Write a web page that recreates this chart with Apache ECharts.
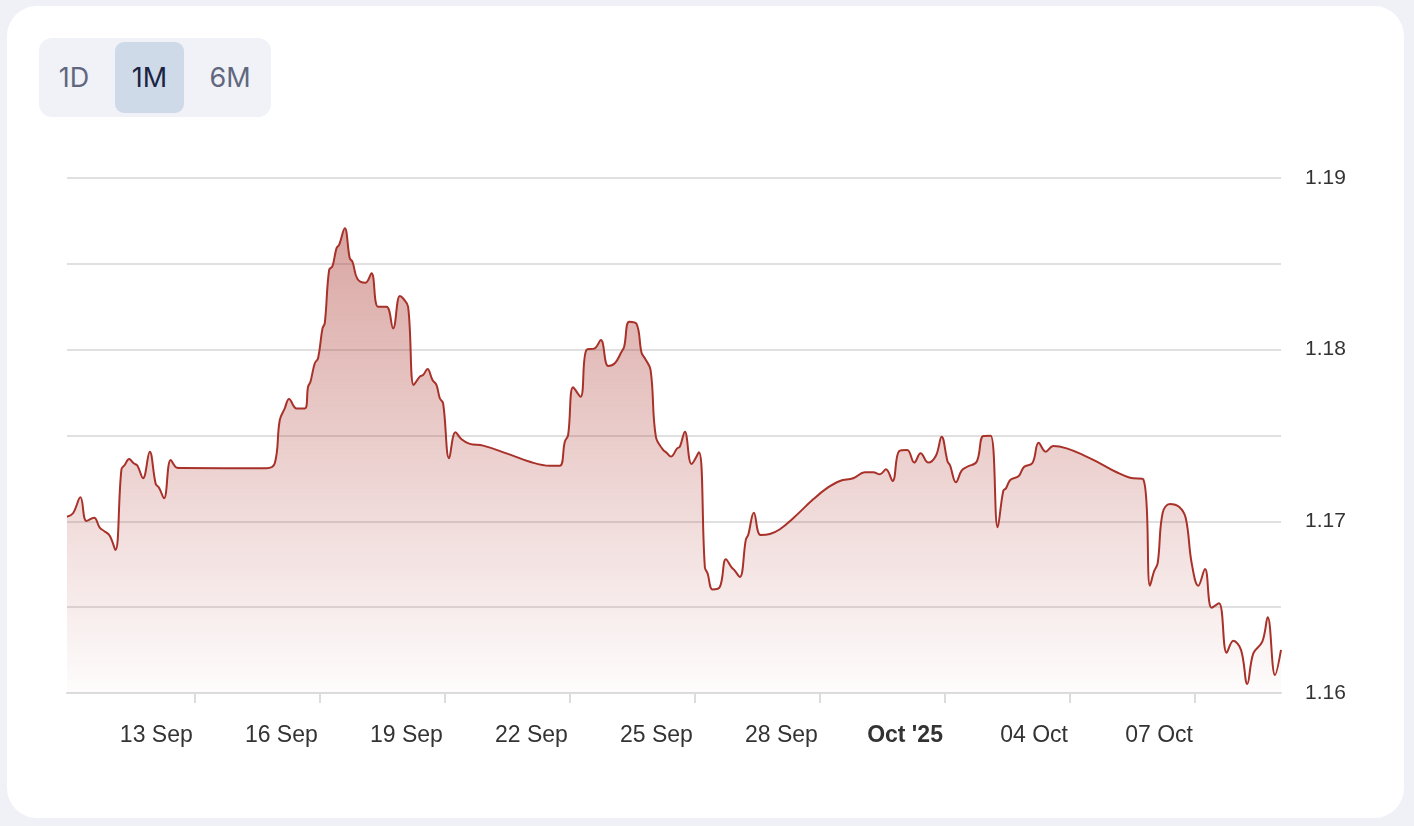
<!DOCTYPE html>
<html>
<head>
<meta charset="utf-8">
<script src="https://cdn.jsdelivr.net/npm/echarts@6/dist/echarts.min.js"></script>
<style>
  html, body { margin: 0; padding: 0; width: 1414px; height: 826px; background: #f0f1f6; overflow: hidden; }
  #card { position: absolute; left: 7px; top: 6px; width: 1397px; height: 812px; background: #ffffff; border-radius: 30px; }
  #chart { position: absolute; left: 0; top: 0; width: 1414px; height: 826px; }
  #ranges { position: absolute; left: 39px; top: 38px; width: 232px; height: 79px; background: #f0f2f7; border-radius: 13px; z-index: 5; }
  .btn { position: absolute; top: 4px; height: 71px; line-height: 71px; text-align: center; font-family: Inter, "Liberation Sans", sans-serif; font-size: 27px; color: #61677f; border-radius: 9px; }
  .btn.sel { background: #cedae8; color: #1b2342; }
</style>
</head>
<body>
<div id="card"></div>
<div id="chart"></div>
<div id="ranges">
  <div class="btn" style="left:3px;width:64px;">1D</div>
  <div class="btn sel" style="left:76px;width:69px;">1M</div>
  <div class="btn" style="left:156px;width:70px;">6M</div>
</div>
<script>
// ---- data ----
const times = [
  '2025-09-09 22:26','2025-09-10 01:54','2025-09-10 06:10','2025-09-10 09:37','2025-09-10 14:00','2025-09-10 17:17','2025-09-10 19:46','2025-09-10 23:02',
  '2025-09-11 02:19','2025-09-11 05:47','2025-09-11 07:41','2025-09-11 10:10','2025-09-11 12:52','2025-09-11 15:00','2025-09-11 18:13','2025-09-11 22:05',
  '2025-09-12 01:32','2025-09-12 03:26','2025-09-12 06:19','2025-09-12 10:11','2025-09-12 13:48','2025-09-12 15:56','2025-09-14 17:18','2025-09-14 22:05',
  '2025-09-15 00:58','2025-09-15 03:50','2025-09-15 06:19','2025-09-15 10:35','2025-09-15 15:22','2025-09-15 17:16','2025-09-15 18:38','2025-09-15 21:07','2025-09-15 23:01',
  '2025-09-16 01:34','2025-09-16 02:53','2025-09-16 05:22','2025-09-16 07:19','2025-09-16 09:37','2025-09-16 11:07','2025-09-16 14:24','2025-09-16 17:17','2025-09-16 18:50','2025-09-16 21:43',
  '2025-09-17 02:19','2025-09-17 05:47','2025-09-17 09:35','2025-09-17 14:25','2025-09-17 18:13','2025-09-17 22:05','2025-09-17 23:59',
  '2025-09-18 02:52','2025-09-18 06:08','2025-09-18 09:36','2025-09-18 11:30','2025-09-18 14:02','2025-09-18 16:55','2025-09-18 19:13','2025-09-18 21:07','2025-09-18 23:01',
  '2025-09-19 02:29','2025-09-19 06:10','2025-09-19 09:37','2025-09-19 14:24','2025-09-19 22:04','2025-09-20 11:32','2025-09-21 00:58','2025-09-21 12:29','2025-09-21 18:14','2025-09-21 21:07','2025-09-21 23:01',
  '2025-09-22 01:54','2025-09-22 06:10','2025-09-22 09:37','2025-09-22 14:24','2025-09-22 17:52','2025-09-22 22:04',
  '2025-09-23 01:55','2025-09-23 05:47','2025-09-23 07:17','2025-09-23 10:10','2025-09-23 14:25','2025-09-23 17:18','2025-09-23 19:12','2025-09-23 22:29',
  '2025-09-24 01:32','2025-09-24 05:44','2025-09-24 07:42','2025-09-24 10:11','2025-09-24 13:48','2025-09-24 15:22','2025-09-24 18:14','2025-09-24 22:06',
  '2025-09-25 02:18','2025-09-25 05:46','2025-09-25 07:19','2025-09-25 10:12','2025-09-25 14:24','2025-09-25 17:52','2025-09-25 21:08','2025-09-25 22:38',
  '2025-09-26 01:55','2025-09-26 05:23','2025-09-26 06:42','2025-09-26 09:59','2025-09-26 13:50','2025-09-26 19:12','2025-09-27 00:58','2025-09-27 08:37','2025-09-27 20:08',
  '2025-09-28 03:52','2025-09-28 11:31','2025-09-28 19:11','2025-09-29 01:55','2025-09-29 06:42','2025-09-29 10:34','2025-09-29 14:01','2025-09-29 17:53','2025-09-29 21:41',
  '2025-09-30 02:17','2025-09-30 06:19','2025-09-30 10:00','2025-09-30 14:23','2025-09-30 18:49','2025-09-30 22:06',
  '2025-10-01 01:34','2025-10-01 02:53','2025-10-01 06:20','2025-10-01 09:37','2025-10-01 12:50','2025-10-01 18:16','2025-10-01 22:04',
  '2025-10-02 02:19','2025-10-02 06:22','2025-10-02 09:35','2025-10-02 11:08','2025-10-02 13:37','2025-10-02 18:31','2025-10-02 21:30',
  '2025-10-03 02:24','2025-10-03 05:58','2025-10-03 10:00','2025-10-03 14:23','2025-10-03 22:06','2025-10-04 07:40','2025-10-04 17:17','2025-10-05 02:54','2025-10-05 10:34','2025-10-05 18:13','2025-10-05 22:05',
  '2025-10-06 00:23','2025-10-06 02:31','2025-10-06 05:24','2025-10-06 09:36','2025-10-06 14:47','2025-10-06 18:38','2025-10-06 22:06',
  '2025-10-07 01:54','2025-10-07 05:46','2025-10-07 09:37','2025-10-07 13:49','2025-10-07 18:16','2025-10-07 22:04',
  '2025-10-08 02:30','2025-10-08 06:07','2025-10-08 09:35','2025-10-08 14:46','2025-10-08 17:53','2025-10-08 22:05','2025-10-09 01:32'
];
const prices = [
  1.17027,1.17047,1.1714,1.17002,1.17021,1.16963,1.16944,1.16916,
  1.16833,1.17303,1.17328,1.17363,1.17338,1.17324,1.17251,1.17406,
  1.17218,1.17196,1.17134,1.17357,1.17312,1.17311,1.17309,1.17338,
  1.1759,1.17658,1.17713,1.17658,1.17658,1.17784,1.17813,1.17921,1.1795,
  1.18124,1.18154,1.18464,1.18487,1.1859,1.1861,1.18707,1.18532,1.18512,1.18412,
  1.1839,1.18445,1.1825,1.1825,1.18124,1.18313,1.18299,
  1.1825,1.17794,1.17843,1.17852,1.17887,1.17823,1.17794,1.17717,1.17688,
  1.17367,1.17519,1.17478,1.17451,1.17441,1.17396,1.17347,1.17324,1.17324,1.17464,1.17503,
  1.17781,1.17726,1.18,1.18008,1.18056,1.17905,
  1.17921,1.17988,1.18017,1.18163,1.1815,1.17982,1.1795,1.17882,
  1.17493,1.17416,1.174,1.17377,1.17425,1.17435,1.17522,1.17334,
  1.17402,1.16731,1.16697,1.16603,1.16618,1.16779,1.16732,1.16717,
  1.16676,1.16895,1.1692,1.1705,1.1692,1.16926,1.16954,1.17018,1.17128,
  1.17192,1.17235,1.17251,1.17286,1.17286,1.17274,1.17303,1.17235,1.1741,
  1.17416,1.17342,1.17396,1.17342,1.17382,1.17493,
  1.17347,1.17328,1.17227,1.17295,1.17318,1.17347,1.17497,
  1.17499,1.16965,1.17177,1.17192,1.17241,1.17264,1.17317,
  1.1734,1.17458,1.17406,1.17439,1.17425,1.17386,1.17338,1.17286,1.17254,1.17245,1.16625,
  1.16707,1.16756,1.1705,1.17101,1.17085,1.17021,1.16756,
  1.16625,1.16722,1.16497,1.16523,1.16235,1.16305,
  1.16251,1.16053,1.16231,1.16299,1.16441,1.16105,1.16251
];
const tickDates = ['2025-09-13','2025-09-16','2025-09-19','2025-09-22','2025-09-25','2025-09-28','2025-10-01','2025-10-04','2025-10-07'];
const tickLabels = ['13 Sep','16 Sep','19 Sep','22 Sep','25 Sep','28 Sep',"Oct '25",'04 Oct','07 Oct'];
const boldTicks = ["Oct '25"];
const yMin = 1.16, yMax = 1.19, yStep = 0.005;
const yLabelValues = [1.16, 1.17, 1.18, 1.19];

// ---- build ----
const toTs = s => {
  const p = s.split(/[- :]/).map(Number);
  return Date.UTC(p[0], p[1] - 1, p[2], p[3] || 0, p[4] || 0);
};
const seriesData = times.map((t, i) => [toTs(t), prices[i]]);
const tickTs = tickDates.map(toTs);
const xMin = toTs(times[0]), xMax = toTs(times[times.length - 1]);

const labelFont = '"Liberation Sans", Arial, sans-serif';
const chart = echarts.init(document.getElementById('chart'), null, { renderer: 'canvas' });
chart.setOption({
  animation: false,
  backgroundColor: 'transparent',
  grid: { left: 67, right: 133, top: 178, bottom: 133, containLabel: false },
  xAxis: {
    type: 'value',
    min: xMin, max: xMax,
    axisLine: { show: true, lineStyle: { color: '#dcdcdc', width: 2 } },
    axisTick: { show: true, customValues: tickTs, length: 10, lineStyle: { color: '#dcdcdc', width: 2 } },
    splitLine: { show: false },
    axisLabel: {
      customValues: tickTs,
      align: 'right',
      margin: 31,
      lineHeight: 24,
      padding: [0, 2, 0, 0],
      color: '#333333',
      fontFamily: labelFont,
      fontSize: 23,
      formatter: function (v) {
        let idx = -1;
        tickTs.forEach((t, i) => { if (Math.abs(t - v) < 3600000) idx = i; });
        if (idx < 0) return '';
        const lab = tickLabels[idx];
        return boldTicks.indexOf(lab) >= 0 ? '{b|' + lab + '}' : lab;
      },
      rich: { b: { fontWeight: 'bold', fontSize: 23, color: '#333333', fontFamily: labelFont, lineHeight: 24 } }
    }
  },
  yAxis: {
    type: 'value',
    position: 'right',
    min: yMin, max: yMax, interval: yStep,
    axisLine: { show: false },
    axisTick: { show: false },
    splitLine: { show: true, lineStyle: { color: '#e0e0e0', width: 2 } },
    axisLabel: {
      customValues: yLabelValues,
      margin: 24,
      color: '#333333',
      fontFamily: labelFont,
      fontSize: 21,
      formatter: v => v.toFixed(2)
    }
  },
  series: [{
    type: 'line',
    data: seriesData,
    showSymbol: false,
    smooth: 0.4,
    lineStyle: { color: '#a8322a', width: 2 },
    areaStyle: {
      color: new echarts.graphic.LinearGradient(0, 0, 0, 1, [
        { offset: 0, color: 'rgba(168,50,42,0.62)' },
        { offset: 1, color: 'rgba(168,50,42,0.02)' }
      ])
    }
  }]
});
</script>
</body>
</html>
